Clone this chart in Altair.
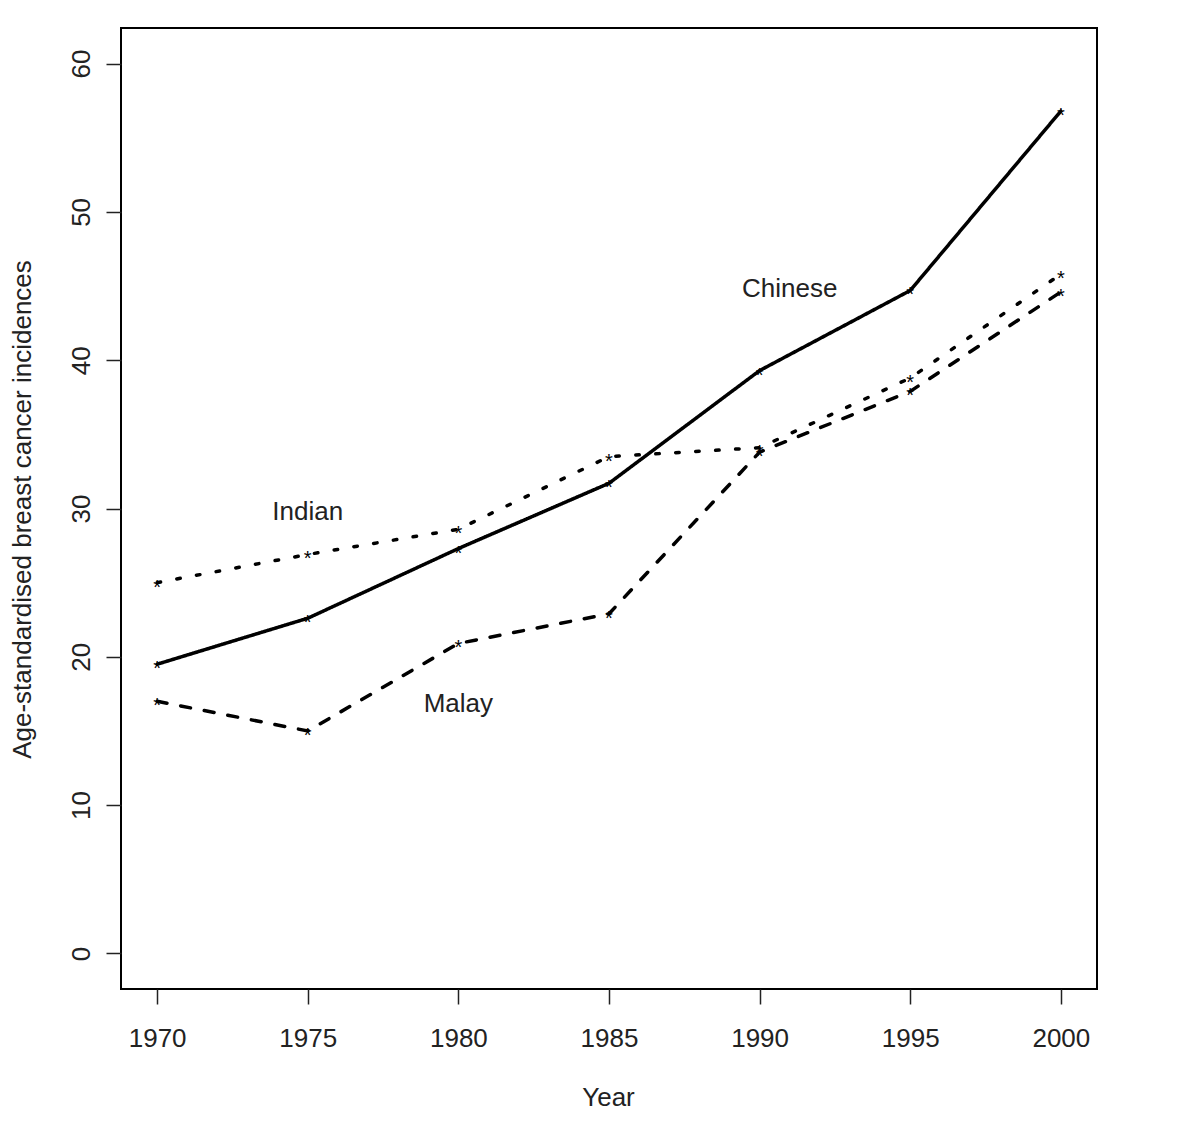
import altair as alt
import pandas as pd

years = [1970, 1975, 1980, 1985, 1990, 1995, 2000]
chinese = [19.5, 22.6, 27.3, 31.7, 39.3, 44.7, 56.8]
indian = [25.0, 26.9, 28.6, 33.5, 34.1, 38.8, 45.8]
malay = [17.0, 15.0, 20.9, 22.9, 33.8, 37.9, 44.6]

series_names = ["Chinese", "Indian", "Malay"]
label_years = [1991, 1975, 1980]
label_values = [45.0, 30.0, 17.0]

rows = []
for name, vals in zip(series_names, [chinese, indian, malay]):
    for yr, v in zip(years, vals):
        rows.append({"Year": yr, "Value": v, "Group": name})
df = pd.DataFrame(rows)

labels = pd.DataFrame({"Year": label_years, "Value": label_values, "Group": series_names})

FONT = "Liberation Sans"

x_scale = alt.Scale(domain=[1968.8, 2001.2], nice=False, zero=False)
y_scale = alt.Scale(domain=[-2.4, 62.4], nice=False, zero=False)

x_enc = alt.X(
    "Year:Q", scale=x_scale,
    axis=alt.Axis(
        values=years, format="d", title="Year", grid=False, domain=False,
        tickSize=15, tickWidth=1.5, tickColor="#222", labelFontSize=26,
        labelFont=FONT, labelColor="#222", labelPadding=21, labelFlush=False,
        titleFont=FONT, titleFontSize=26, titleFontWeight="normal", titleColor="#222",
        titleX=487, titleY=108, titleBaseline="middle", titleAnchor="middle",
    ),
)
y_enc = alt.Y(
    "Value:Q", scale=y_scale,
    axis=alt.Axis(
        values=[0, 10, 20, 30, 40, 50, 60], title="Age-standardised breast cancer incidences",
        grid=False, domain=False, tickSize=15, tickWidth=1.5, tickColor="#222",
        labelFontSize=26, labelFont=FONT, labelColor="#222", labelAngle=270,
        labelAlign="center", labelBaseline="bottom", labelPadding=12,
        titleFont=FONT, titleFontSize=26, titleFontWeight="normal", titleColor="#222",
        titleAngle=270, titleX=-99, titleY=481, titleBaseline="middle", titleAlign="center",
    ),
)

lines = alt.Chart(df).mark_line(color="black", strokeWidth=3.5, strokeCap="round").encode(
    x=x_enc, y=y_enc,
    strokeDash=alt.StrokeDash(
        "Group:N",
        scale=alt.Scale(domain=series_names, range=[[1, 0], [3.5, 16.5], [10, 14]]),
        legend=None,
    ),
    detail="Group:N",
)

stars = alt.Chart(df).mark_text(
    text="*", fontSize=20, font=FONT, color="black", baseline="alphabetic", dy=11
).encode(x="Year:Q", y="Value:Q")

text = alt.Chart(labels).mark_text(
    fontSize=26, font=FONT, color="#222", baseline="middle", align="center", dy=3
).encode(x="Year:Q", y="Value:Q", text="Group:N")

chart = alt.layer(lines, stars, text).properties(
    width=976, height=961,
    autosize=alt.AutoSizeParams(type="none"),
    padding={"left": 113, "top": 20, "right": 95, "bottom": 143},
    view=alt.ViewBackground(stroke="black", strokeWidth=2, fill="white"),
).configure(background="white")

chart.save("out.html", embed_options={"renderer": "svg", "actions": False})
